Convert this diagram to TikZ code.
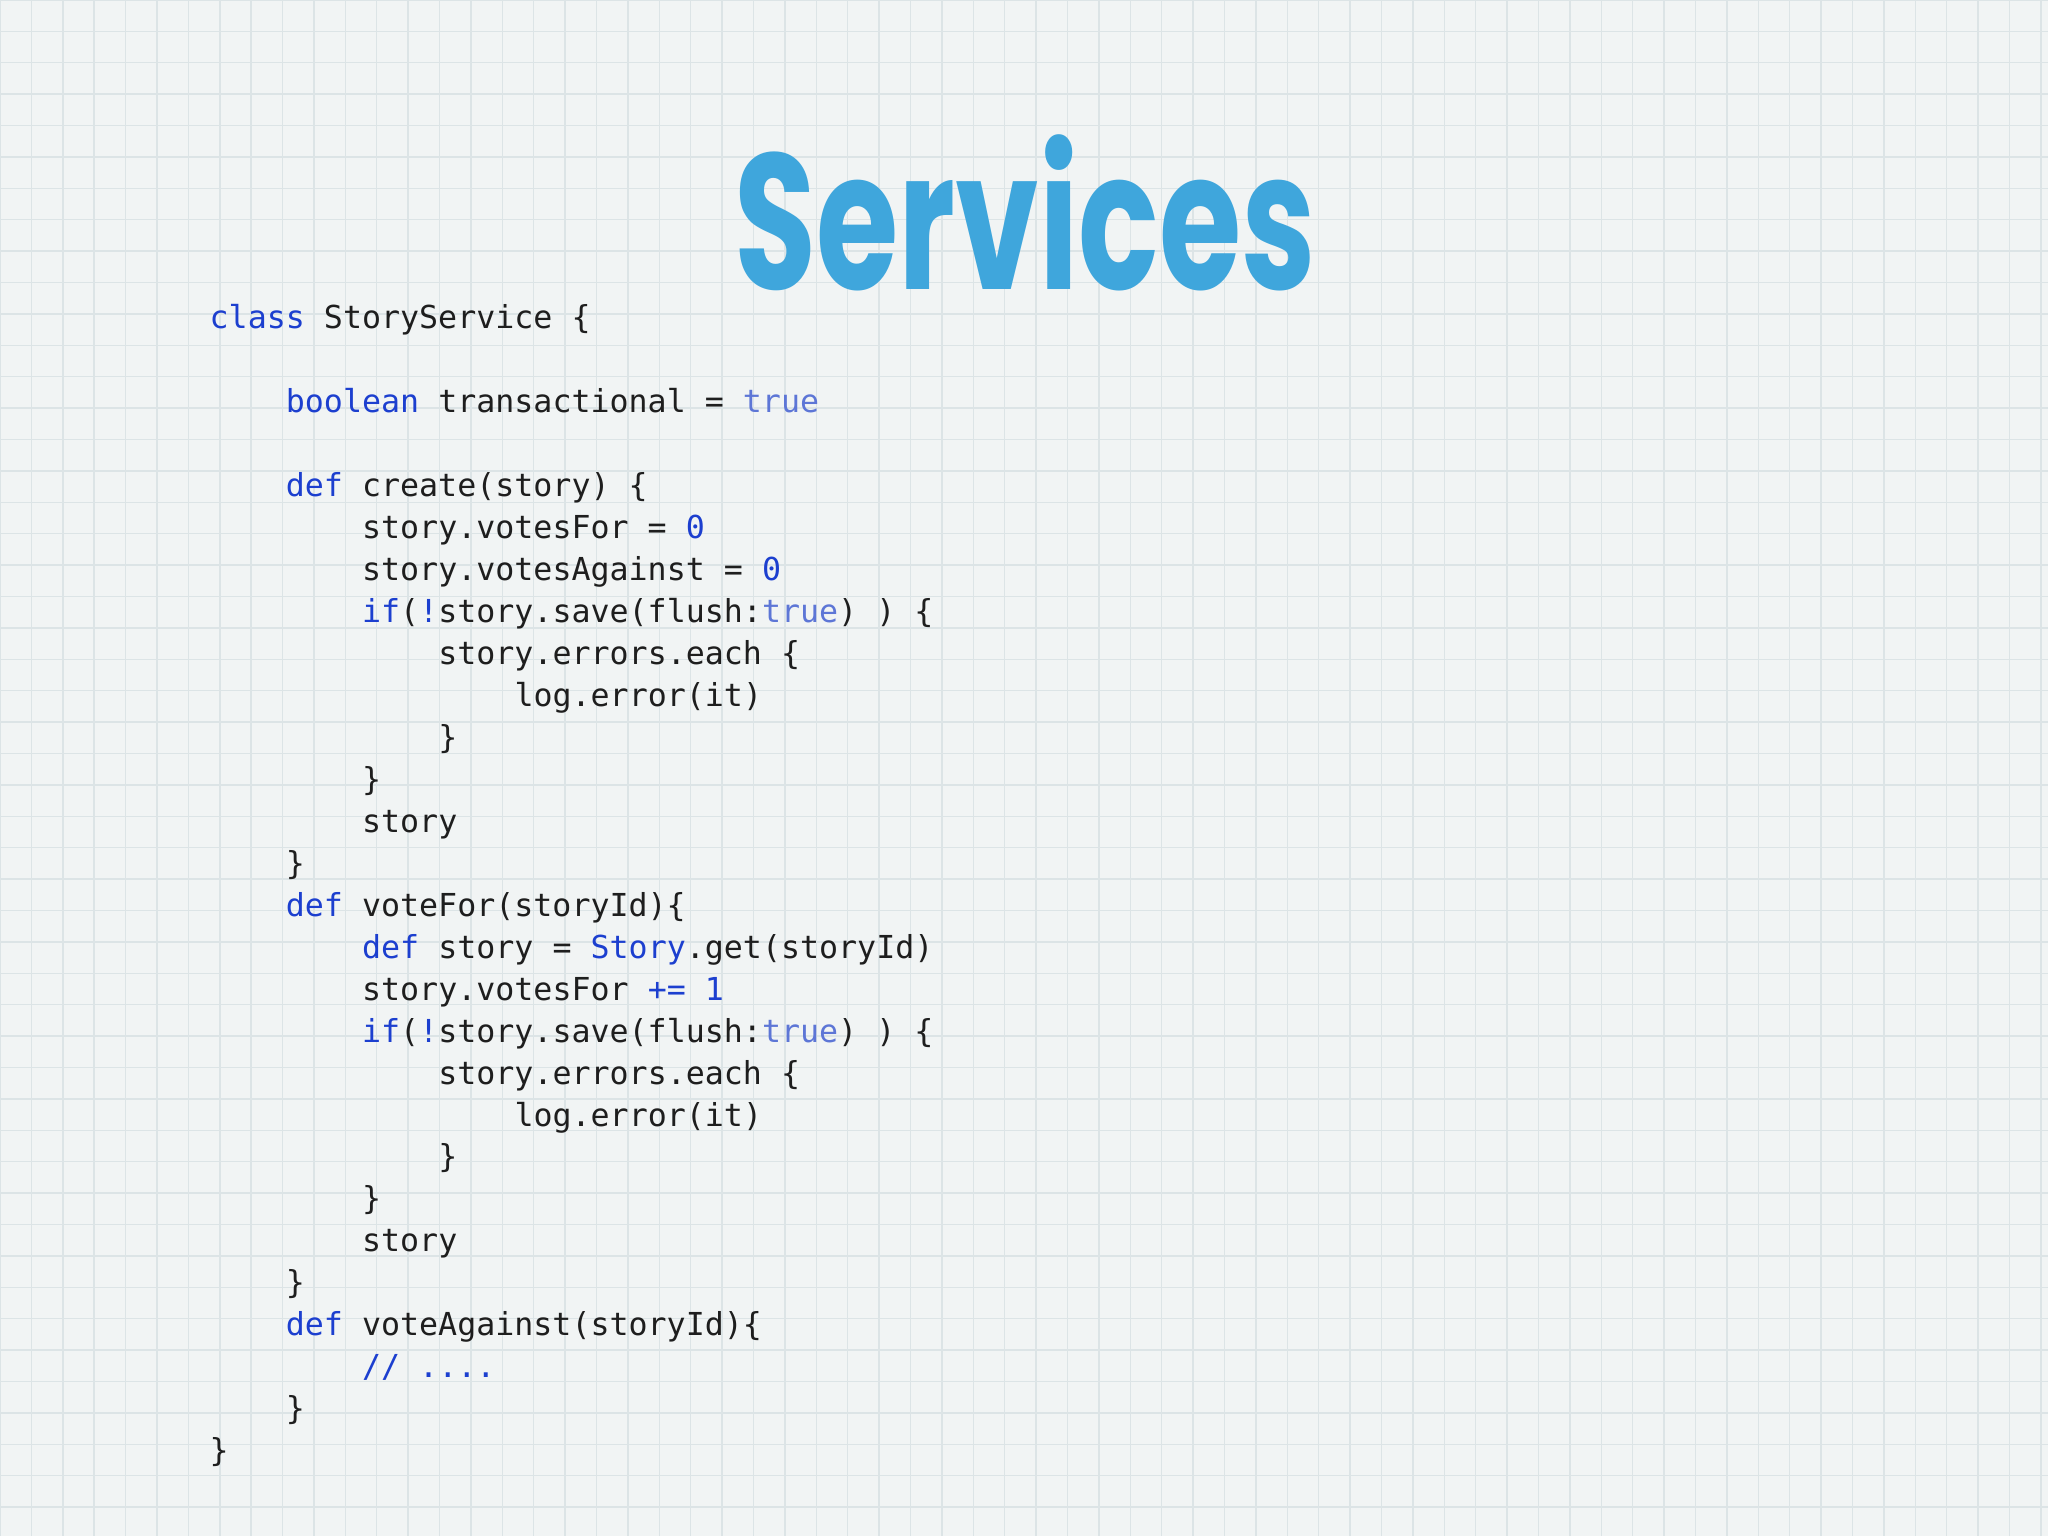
\documentclass[tikz,border=0pt]{standalone}
\usepackage{fontspec}
\setmonofont{DejaVu Sans Mono}
\newfontfamily\titlefont{Poppins}
\definecolor{bgc}{HTML}{F1F4F4}
\definecolor{gridc}{HTML}{DCE4E6}
\definecolor{kwc}{HTML}{1C3FCF}
\definecolor{litc}{HTML}{5D76D6}
\definecolor{txt}{HTML}{1E1E1E}
\definecolor{titlec}{HTML}{3FA6DC}
\newcommand{\kw}[1]{\textcolor{kwc}{#1}}
\newcommand{\lit}[1]{\textcolor{litc}{#1}}
\begin{document}
\begin{tikzpicture}[x=1cm,y=1cm,
  codeline/.style={anchor=base west,inner sep=0pt,font=\fontsize{9pt}{10pt}\ttfamily,text=txt}]
\useasboundingbox (0,0) rectangle (20.48,-15.36);
\fill[bgc] (0,0) rectangle (20.48,-15.36);
\draw[gridc,line width=0.4pt,step=0.314] (0,-15.36) grid (20.48,0);
\node[font=\titlefont\bfseries\fontsize{55pt}{55pt}\selectfont,text=titlec,anchor=base,xscale=0.69,transform shape] (title) at (10.25,-2.9) {Services};
\def\cx{2.09}\def\ind{0.762}\def\ly{0.4195}
\foreach \i/\n/\t in {
0/0/{\kw{class} StoryService \{},
2/1/{\kw{boolean} transactional = \lit{true}},
4/1/{\kw{def} create(story) \{},
5/2/{story.votesFor = \kw{0}},
6/2/{story.votesAgainst = \kw{0}},
7/2/{\kw{if}(\kw{!}story.save(flush:\lit{true}) ) \{},
8/3/{story.errors.each \{},
9/4/{log.error(it)},
10/3/{\}},
11/2/{\}},
12/2/{story},
13/1/{\}},
14/1/{\kw{def} voteFor(storyId)\{},
15/2/{\kw{def} story = \kw{Story}.get(storyId)},
16/2/{story.votesFor \kw{+=} \kw{1}},
17/2/{\kw{if}(\kw{!}story.save(flush:\lit{true}) ) \{},
18/3/{story.errors.each \{},
19/4/{log.error(it)},
20/3/{\}},
21/2/{\}},
22/2/{story},
23/1/{\}},
24/1/{\kw{def} voteAgainst(storyId)\{},
25/2/{\kw{// ....}},
26/1/{\}},
27/0/{\}}}
  \node[codeline] (l\i) at ({\cx+\n*\ind},{-3.29-\i*\ly}) {\t};
\end{tikzpicture}
\end{document}
